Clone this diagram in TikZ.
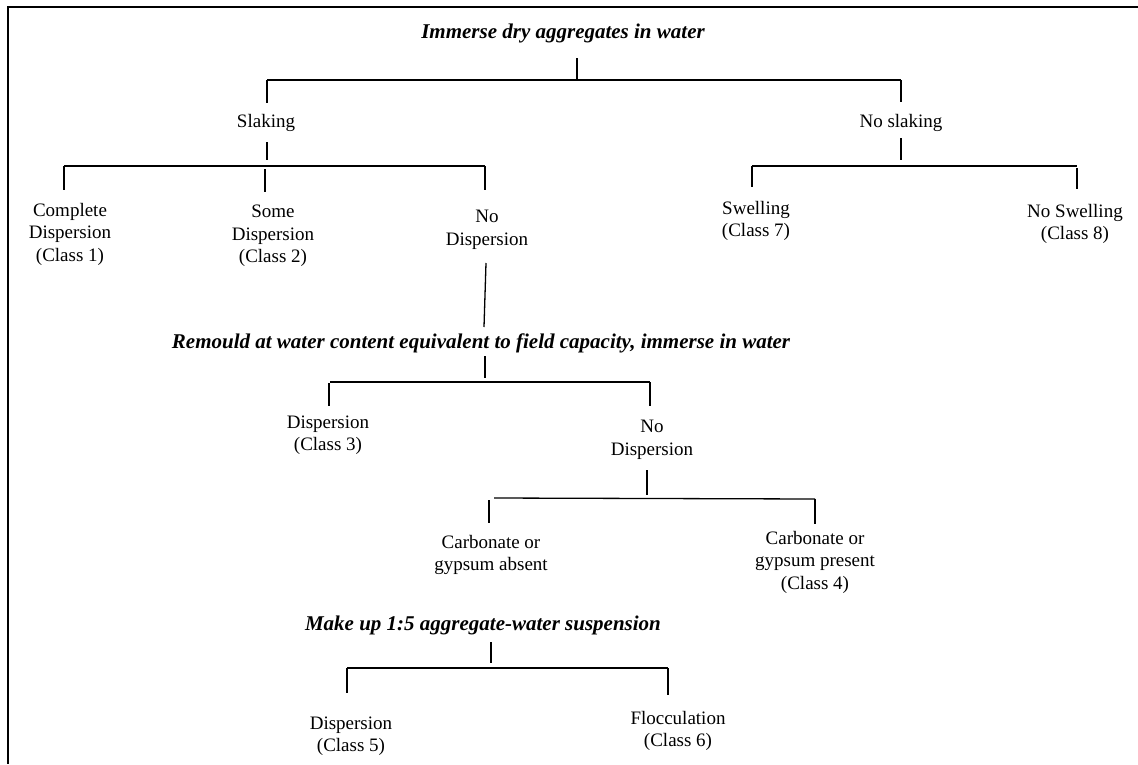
\documentclass[tikz,border=0pt]{standalone}
\usepackage{fontspec}
\setmainfont{Liberation Serif}
\begin{document}
\begin{tikzpicture}[x=1pt,y=-1pt,
  lbl/.style={align=center,inner sep=0pt,font=\fontsize{19}{22.5}\selectfont},
  head/.style={inner sep=0pt,font=\fontsize{21}{24}\selectfont\bfseries\itshape},
  tline/.style={line width=1.3pt},
  frameline/.style={line width=1.8pt}]
\useasboundingbox (0,0) rectangle (1138,764);
% frame
\coordinate (fa) at (7,7);
\coordinate (fb) at (1138,7);
\coordinate (fc) at (8,7);
\coordinate (fd) at (8,764);
\draw[frameline] (fa) -- (fb);
\draw[frameline] (fc) -- (fd);

% nodes
\node[head] (t1) at (563,33) {Immerse dry aggregates in water};
\node[lbl] (slak) at (266,123) {Slaking};
\node[lbl] (nsl) at (901,123) {No slaking};
\node[lbl] (c1) at (70,234) {Complete\\Dispersion\\(Class 1)};
\node[lbl] (c2) at (273,236) {Some\\Dispersion\\(Class 2)};
\node[lbl] (nd1) at (487,230) {No\\Dispersion};
\node[lbl] (c7) at (756,221) {Swelling\\(Class 7)};
\node[lbl] (c8) at (1075,224) {No Swelling\\(Class 8)};
\node[head] (r1) at (481,343) {Remould at water content equivalent to field capacity, immerse in water};
\node[lbl] (c3) at (328,435) {Dispersion\\(Class 3)};
\node[lbl] (nd2) at (652,440) {No\\Dispersion};
\node[lbl] (cga) at (491,555) {Carbonate or\\gypsum absent};
\node[lbl] (cgp) at (815,562) {Carbonate or\\gypsum present\\(Class 4)};
\node[head] (m1) at (483,625) {Make up 1:5 aggregate-water suspension};
\node[lbl] (c5) at (351,736) {Dispersion\\(Class 5)};
\node[lbl] (c6) at (678,731) {Flocculation\\(Class 6)};

% level 1: immerse
\coordinate (s1a) at (577,58); \coordinate (s1b) at (577,80);
\coordinate (h1l) at (267,80); \coordinate (h1r) at (901,80);
\coordinate (d1a) at (267,103); \coordinate (d1b) at (901,102);
\draw[tline] (s1a) -- (s1b);
\draw[tline] (h1l) -- (h1r);
\draw[tline] (h1l) -- (d1a);
\draw[tline] (h1r) -- (d1b);

% slaking
\coordinate (s2a) at (267,142); \coordinate (s2b) at (267,160);
\coordinate (h2l) at (64,166); \coordinate (h2r) at (485,166);
\coordinate (d2a) at (64,190);
\coordinate (d2bt) at (265,169); \coordinate (d2b) at (265,192);
\coordinate (d2c) at (485,190);
\draw[tline] (s2a) -- (s2b);
\draw[tline] (h2l) -- (h2r);
\draw[tline] (h2l) -- (d2a);
\draw[tline] (d2bt) -- (d2b);
\draw[tline] (h2r) -- (d2c);

% no slaking
\coordinate (s3a) at (901,138); \coordinate (s3b) at (901,160);
\coordinate (h3l) at (752,166); \coordinate (h3r) at (1077,166);
\coordinate (d3a) at (752,187);
\coordinate (d3bt) at (1077,168); \coordinate (d3b) at (1077,189);
\draw[tline] (s3a) -- (s3b);
\draw[tline] (h3l) -- (h3r);
\draw[tline] (h3l) -- (d3a);
\draw[tline] (d3bt) -- (d3b);

% no dispersion -> remould
\coordinate (s4a) at (486,263); \coordinate (s4b) at (484,327);
\draw[tline] (s4a) -- (s4b);

% remould
\coordinate (s5a) at (485,356); \coordinate (s5b) at (485,378);
\coordinate (h5l) at (330,382); \coordinate (h5r) at (650,382);
\coordinate (d5a) at (329,406); \coordinate (d5at) at (329,383);
\coordinate (d5b) at (650,406);
\draw[tline] (s5a) -- (s5b);
\draw[tline] (h5l) -- (h5r);
\draw[tline] (d5at) -- (d5a);
\draw[tline] (h5r) -- (d5b);

% no dispersion 2
\coordinate (s6a) at (647,470); \coordinate (s6b) at (647,495);
\coordinate (h6l) at (494,498); \coordinate (h6r) at (815,499);
\coordinate (d6at) at (489,500); \coordinate (d6a) at (489,523);
\coordinate (d6b) at (815,524);
\draw[tline] (s6a) -- (s6b);
\draw[tline] (h6l) -- (h6r);
\draw[tline] (d6at) -- (d6a);
\draw[tline] (h6r) -- (d6b);

% make up
\coordinate (s7a) at (491,642); \coordinate (s7b) at (491,663);
\coordinate (h7l) at (347,668); \coordinate (h7r) at (668,668);
\coordinate (d7a) at (347,693); \coordinate (d7b) at (668,695);
\draw[tline] (s7a) -- (s7b);
\draw[tline] (h7l) -- (h7r);
\draw[tline] (h7l) -- (d7a);
\draw[tline] (h7r) -- (d7b);
\end{tikzpicture}
\end{document}
